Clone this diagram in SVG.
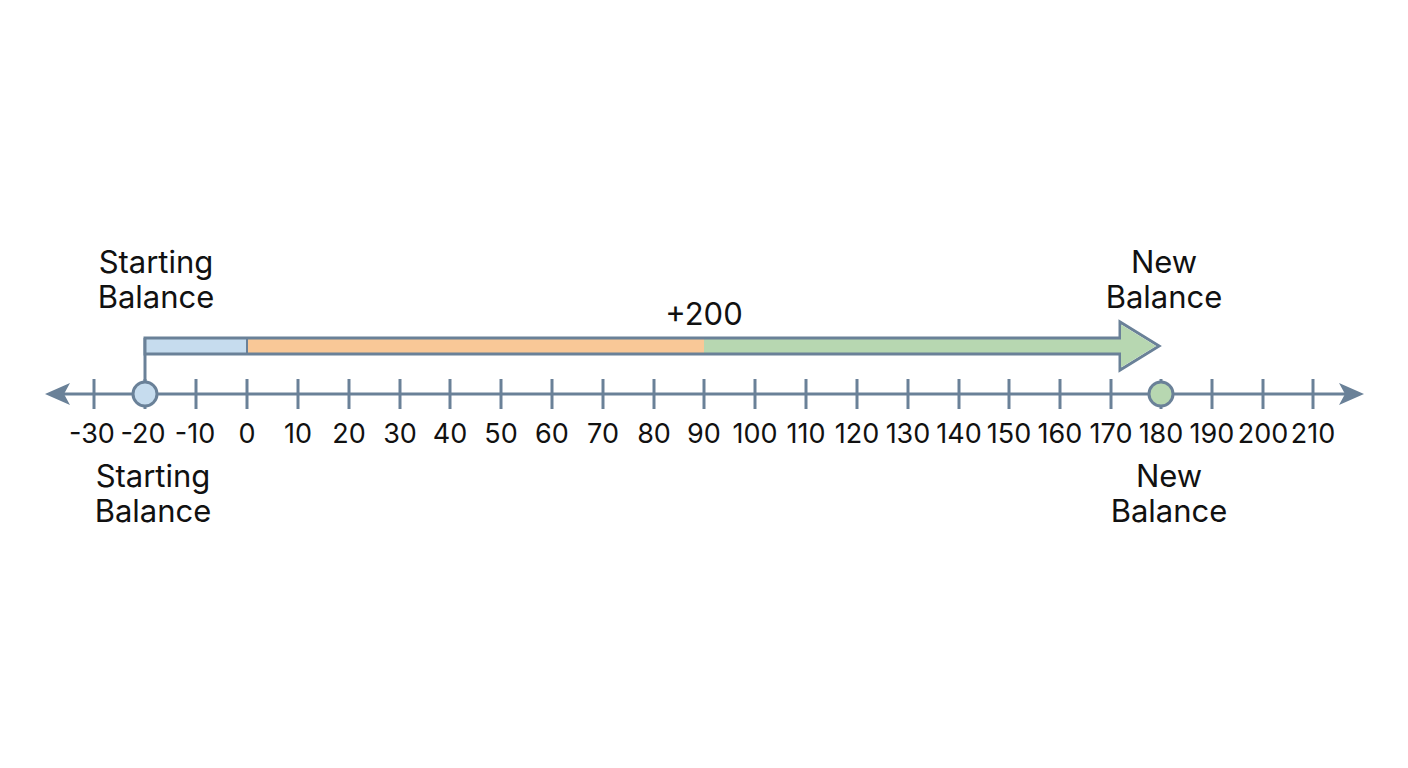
<svg xmlns="http://www.w3.org/2000/svg" width="1408" height="768" viewBox="0 0 1408 768">
<style>
.ax{stroke:#6a8198;stroke-width:3;fill:none}
.tk{stroke:#6a8198;stroke-width:3}
.t{font-family:Inter,"Liberation Sans",sans-serif;font-size:27px;fill:#111;text-anchor:middle}
.l{font-family:Inter,"Liberation Sans",sans-serif;font-size:31px;fill:#111;text-anchor:middle}
</style>
<rect width="1408" height="768" fill="#ffffff"/>
<g id="connectors">
<line class="ax" x1="60" y1="394" x2="1350" y2="394"/>
<polygon points="45,394 70,383 64,394 70,405" fill="#6a8198"/>
<polygon points="1364,394 1339,383 1345,394 1339,405" fill="#6a8198"/>
<g class="tk">
<line x1="94" y1="379" x2="94" y2="409"/><line x1="145" y1="379" x2="145" y2="409"/><line x1="196" y1="379" x2="196" y2="409"/><line x1="247" y1="379" x2="247" y2="409"/><line x1="298" y1="379" x2="298" y2="409"/><line x1="349" y1="379" x2="349" y2="409"/><line x1="400" y1="379" x2="400" y2="409"/><line x1="450" y1="379" x2="450" y2="409"/><line x1="501" y1="379" x2="501" y2="409"/><line x1="552" y1="379" x2="552" y2="409"/><line x1="603" y1="379" x2="603" y2="409"/><line x1="654" y1="379" x2="654" y2="409"/><line x1="704" y1="379" x2="704" y2="409"/><line x1="755" y1="379" x2="755" y2="409"/><line x1="806" y1="379" x2="806" y2="409"/><line x1="857" y1="379" x2="857" y2="409"/><line x1="908" y1="379" x2="908" y2="409"/><line x1="959" y1="379" x2="959" y2="409"/><line x1="1009" y1="379" x2="1009" y2="409"/><line x1="1060" y1="379" x2="1060" y2="409"/><line x1="1111" y1="379" x2="1111" y2="409"/><line x1="1161" y1="379" x2="1161" y2="409"/><line x1="1212" y1="379" x2="1212" y2="409"/><line x1="1263" y1="379" x2="1263" y2="409"/><line x1="1313" y1="379" x2="1313" y2="409"/>
</g>
<line class="ax" x1="145" y1="338" x2="145" y2="382"/>
</g>
<g id="change-arrow">
<rect x="145" y="338" width="102" height="16" fill="#c6dcee"/>
<rect x="247" y="338" width="457" height="16" fill="#f9c897"/>
<rect x="704" y="338" width="418" height="16" fill="#b7d7b1"/>
<path d="M145,354 V338 H1120 V322 L1159,346 L1120,370 V354 Z" fill="none" stroke="#6a8198" stroke-width="3" stroke-linejoin="miter"/>
<path d="M1121,339.5 V324.5 L1156,346 L1121,367.5 V352.5 Z" fill="#b7d7b1"/>
<line x1="247" y1="339" x2="247" y2="353" stroke="#6a8198" stroke-width="2"/>
<text class="l" x="704" y="325">+200</text>
</g>
<g id="start-point">
<circle cx="145" cy="394" r="12" fill="#c6dcee" stroke="#6a8198" stroke-width="3"/>
</g>
<g id="end-point">
<circle cx="1161" cy="394" r="12" fill="#b7d7b1" stroke="#6a8198" stroke-width="3"/>
</g>
<g id="tick-labels">
<text class="t" x="92" y="443">-30</text><text class="t" x="143" y="443">-20</text><text class="t" x="195" y="443">-10</text><text class="t" x="247" y="443">0</text><text class="t" x="298" y="443">10</text><text class="t" x="349" y="443">20</text><text class="t" x="400" y="443">30</text><text class="t" x="450" y="443">40</text><text class="t" x="501" y="443">50</text><text class="t" x="552" y="443">60</text><text class="t" x="603" y="443">70</text><text class="t" x="654" y="443">80</text><text class="t" x="704" y="443">90</text><text class="t" x="755" y="443">100</text><text class="t" x="806" y="443">110</text><text class="t" x="857" y="443">120</text><text class="t" x="908" y="443">130</text><text class="t" x="959" y="443">140</text><text class="t" x="1009" y="443">150</text><text class="t" x="1060" y="443">160</text><text class="t" x="1111" y="443">170</text><text class="t" x="1161" y="443">180</text><text class="t" x="1212" y="443">190</text><text class="t" x="1263" y="443">200</text><text class="t" x="1313" y="443">210</text>
</g>
<g id="label-start-top"><text class="l" x="156" y="273">Starting</text><text class="l" x="156" y="308">Balance</text></g>
<g id="label-new-top"><text class="l" x="1164" y="273">New</text><text class="l" x="1164" y="308">Balance</text></g>
<g id="label-start-bottom"><text class="l" x="153" y="487">Starting</text><text class="l" x="153" y="522">Balance</text></g>
<g id="label-new-bottom"><text class="l" x="1169" y="487">New</text><text class="l" x="1169" y="522">Balance</text></g>
</svg>
